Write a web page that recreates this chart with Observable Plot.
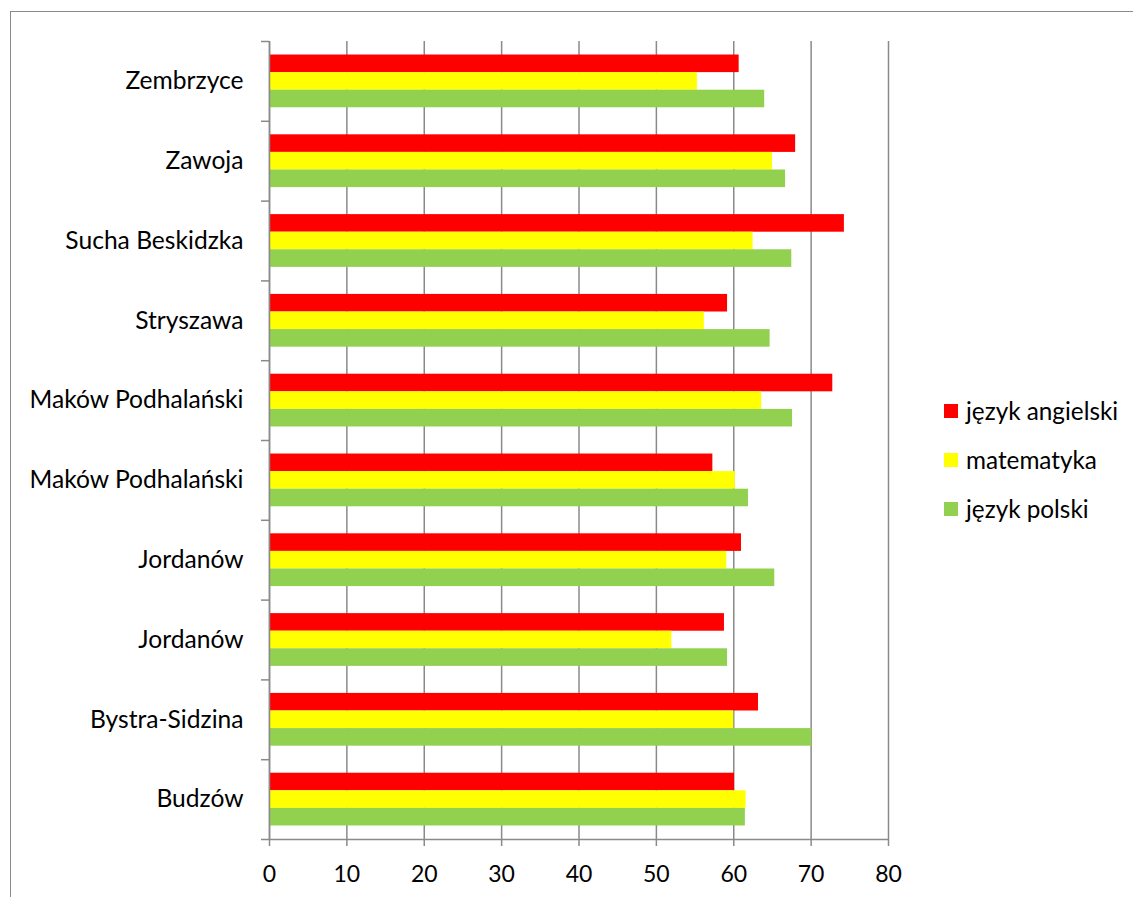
<!DOCTYPE html>
<html>
<head>
<meta charset="utf-8">
<script src="https://cdn.jsdelivr.net/npm/d3@7"></script>
<script src="https://cdn.jsdelivr.net/npm/@observablehq/plot@0.6"></script>
<style>
  html, body { margin: 0; padding: 0; background: #fff; }
  body { width: 1133px; height: 897px; position: relative; overflow: hidden; font-family: Lato, "Open Sans", sans-serif; }
  #frame { position: absolute; left: 10px; top: 11px; width: 1200px; height: 1000px; border-top: 1.5px solid #8a8a8a; border-left: 1.5px solid #8a8a8a; }
  #chart { position: absolute; left: 0; top: 0; }
  #legend { position: absolute; left: 944px; top: 396px; }
  .item { display: flex; align-items: center; height: 28px; margin-bottom: 21px; font-size: 24.3px; color: #000; }
  .sw { width: 14px; height: 14px; margin-right: 8px; margin-top: 2px; }
</style>
</head>
<body>
<div id="frame"></div>
<div id="chart"></div>
<div id="legend"></div>
<script>
// Categories listed bottom to top (as they appear on the chart)
const categories = ["Budzów", "Bystra-Sidzina", "Jordanów", "Jordanów", "Maków Podhalański", "Maków Podhalański", "Stryszawa", "Sucha Beskidzka", "Zawoja", "Zembrzyce"];
const subjects = ["język angielski", "matematyka", "język polski"];
const angielski = [60.1, 63.2, 58.8, 61.0, 57.3, 72.8, 59.2, 74.3, 68.0, 60.7];
const matematyka = [61.6, 60.0, 52.0, 59.1, 60.2, 63.6, 56.2, 62.5, 65.0, 55.3];
const polski = [61.5, 70.1, 59.2, 65.3, 61.9, 67.6, 64.7, 67.5, 66.7, 64.0];
const xTicks = [0, 10, 20, 30, 40, 50, 60, 70, 80];
const colors = ["#ff0000", "#ffff00", "#92d050"];

const series = [angielski, matematyka, polski];
const bw = 0.2204; // bar thickness as a fraction of a category band
const table = [];
categories.forEach((c, i) => {
  series.forEach((vals, j) => {
    const top = i + 0.5 + 1.5 * bw - j * bw;
    table.push({category: c, subject: subjects[j], value: vals[i], y1: top - bw, y2: top});
  });
});

const gray = "#8a8a8a";
const chart = Plot.plot({
  width: 1133,
  height: 897,
  marginLeft: 269,
  marginRight: 245,
  marginTop: 41,
  marginBottom: 58,
  style: {fontFamily: "Lato, 'Open Sans', sans-serif", background: "transparent", color: "#000"},
  x: {domain: [0, 80]},
  y: {domain: [0, categories.length]},
  color: {domain: subjects, range: colors},
  marks: [
    Plot.gridX(xTicks, {stroke: gray, strokeOpacity: 1, strokeWidth: 1.5}),
    Plot.rectX(table, {x: "value", y1: "y1", y2: "y2", fill: "subject"}),
    Plot.ruleX([0], {stroke: gray, strokeWidth: 1.5}),
    Plot.ruleY([0], {stroke: gray, strokeWidth: 1.5}),
    Plot.axisX({ticks: xTicks, tickSize: 7, tickPadding: 19, fontSize: 23, stroke: gray, strokeWidth: 1.5, fill: "#000", label: null}),
    Plot.axisY({ticks: d3.range(0, categories.length + 1), tickSize: 8, tickFormat: () => "", stroke: gray, strokeWidth: 1.5, label: null}),
    Plot.axisY({ticks: categories.map((c, i) => i + 0.5), tickSize: 0, tickPadding: 26, fontSize: 24.6, fill: "#000", tickFormat: (d) => categories[Math.floor(d)], label: null})
  ]
});
document.getElementById("chart").appendChild(chart);

const legend = d3.select("#legend");
subjects.forEach((s, j) => {
  const item = legend.append("div").attr("class", "item");
  item.append("div").attr("class", "sw").style("background", colors[j]);
  item.append("span").text(s);
});
</script>
</body>
</html>
